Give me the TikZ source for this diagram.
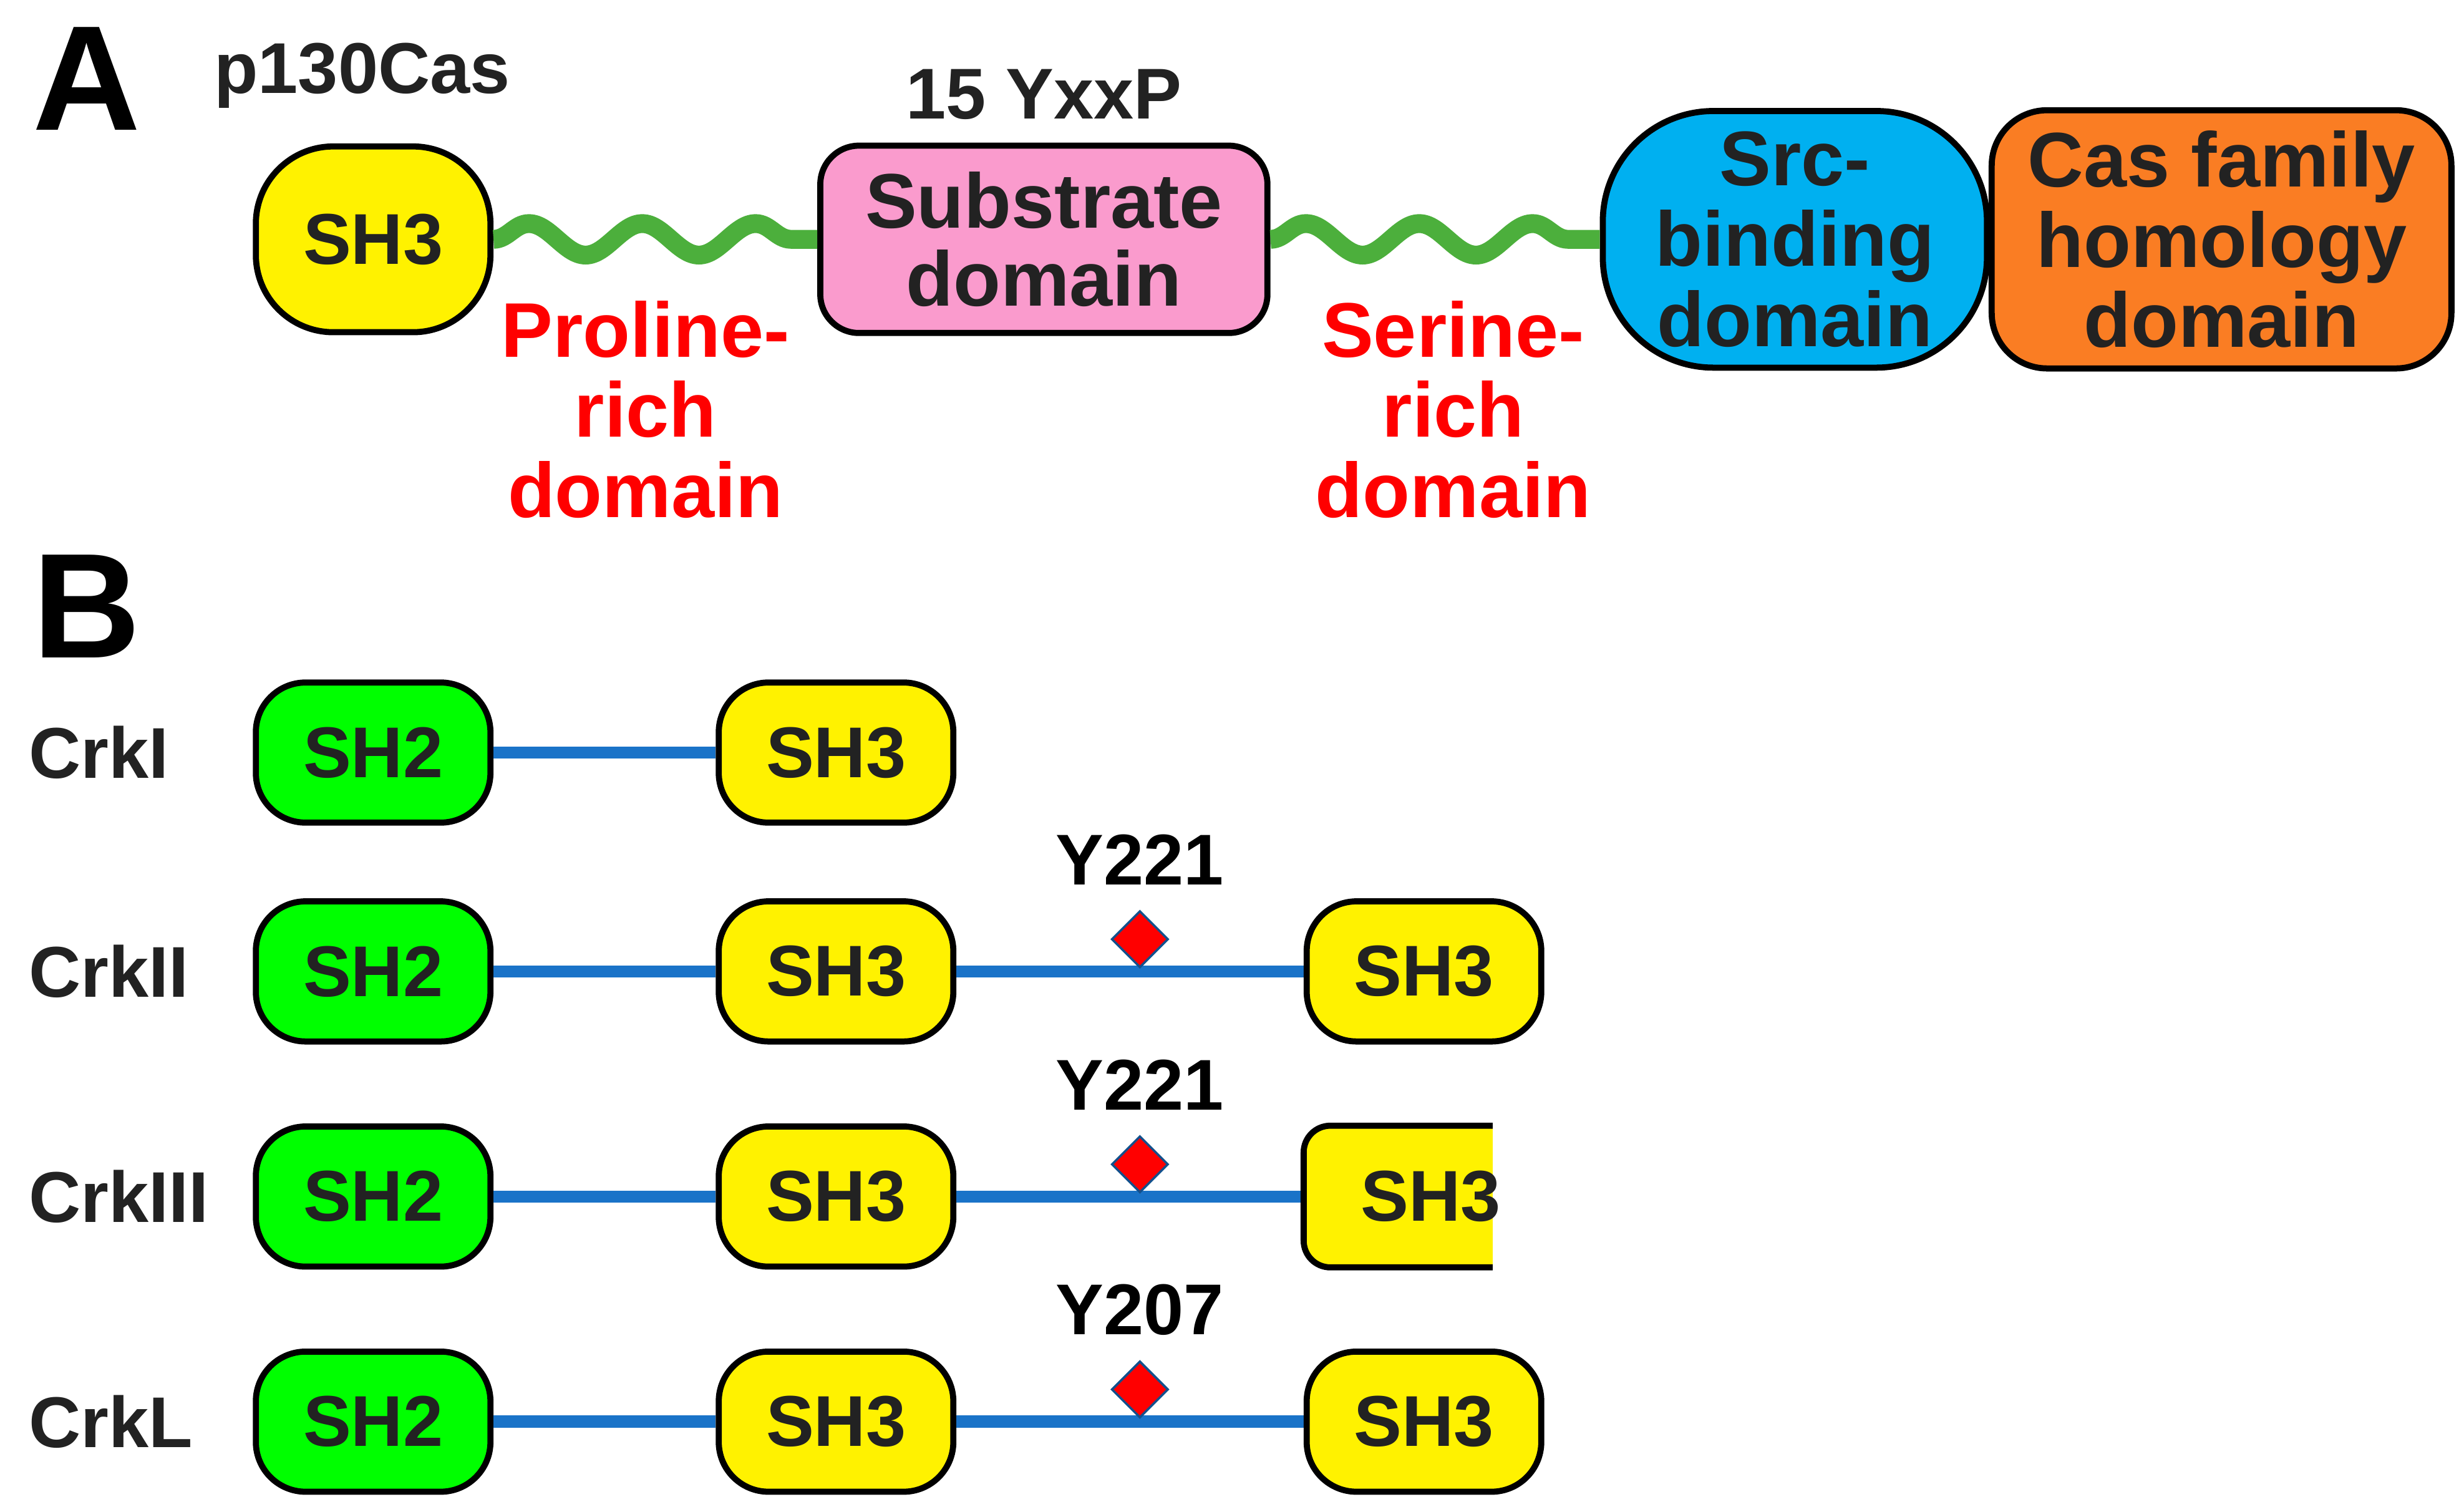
\documentclass[tikz,border=0pt]{standalone}
\usepackage{fontspec}
\setmainfont{Liberation Sans}
\usetikzlibrary{decorations.pathmorphing, shapes.geometric}
\definecolor{wormgreen}{RGB}{76,175,60}
\definecolor{linkblue}{RGB}{26,115,200}
\definecolor{subpink}{RGB}{250,155,205}
\definecolor{srcblue}{RGB}{0,176,240}
\definecolor{casorange}{RGB}{250,125,35}
\definecolor{txtgray}{RGB}{34,34,34}
\tikzset{
  dom/.style={draw=black, line width=1.1pt, rounded corners=9pt, minimum width=1.49cm, minimum height=0.89cm,
    font=\bfseries\fontsize{13}{13}\selectfont, text=txtgray, align=center, inner sep=0pt},
  shtwo/.style={dom, fill=green},
  shthree/.style={dom, fill=yellow},
  redlbl/.style={text=red, font=\bfseries\fontsize{14}{14.5}\selectfont, align=center},
  rowlbl/.style={anchor=west, font=\bfseries\fontsize{13}{13}\selectfont, text=txtgray},
  tyr/.style={diamond, fill=red, draw=linkblue!70!black, line width=0.4pt, minimum size=0.36cm, inner sep=0pt},
  link/.style={linkblue, line width=2.2pt},
  worm/.style={wormgreen, line width=3.4pt, decorate, decoration={snake, segment length=0.72cm, amplitude=0.1cm}}
}
\begin{document}
\begin{tikzpicture}
\useasboundingbox (0,0) rectangle (15.65,-9.57);
% Panel A
\node[font=\bfseries\fontsize{27}{27}\selectfont] (lblA) at (0.55,-0.5) {A};
\node[font=\bfseries\fontsize{13}{13}\selectfont, text=txtgray] (cas) at (2.3,-0.48) {p130Cas};
\node[dom, fill=yellow, minimum height=1.18cm, rounded corners=14pt] (sh3a) at (2.37,-1.52) {SH3};
\node[dom, fill=subpink, minimum width=2.84cm, minimum height=1.19cm, rounded corners=7pt, font=\bfseries\fontsize{14}{14}\selectfont] (sub) at (6.63,-1.52) {Substrate\\domain};
\node[dom, fill=srcblue, minimum width=2.44cm, minimum height=1.63cm, rounded corners=20pt, font=\bfseries\fontsize{14}{14.5}\selectfont] (src) at (11.4,-1.52) {Src-\\binding\\domain};
\node[dom, fill=casorange, minimum width=2.92cm, minimum height=1.64cm, rounded corners=10pt, font=\bfseries\fontsize{14}{14.5}\selectfont] (chd) at (14.11,-1.52) {Cas family\\homology\\domain};
\node[font=\bfseries\fontsize{13}{13}\selectfont, text=txtgray] (yxxp) at (6.63,-0.6) {15 YxxP};
\draw[worm] (sh3a.east) -- (sub.west);
\draw[worm] (sub.east) -- (src.west);
\node[redlbl] (pro) at (4.1,-2.6) {Proline-\\rich\\domain};
\node[redlbl] (ser) at (9.23,-2.6) {Serine-\\rich\\domain};
% Panel B
\node[font=\bfseries\fontsize{27}{27}\selectfont] (lblB) at (0.55,-3.85) {B};
\foreach \y/\nm/\lbl in {4.78/one/CrkI, 6.17/two/CrkII, 7.6/three/CrkIII, 9.03/el/CrkL}{
  \node[rowlbl] (lbl\nm) at (0.06,-\y) {\lbl};
  \node[shtwo] (sha\nm) at (2.37,-\y) {SH2};
  \node[shthree] (shb\nm) at (5.31,-\y) {SH3};
  \draw[link] (sha\nm.east) -- (shb\nm.west);
}
\foreach \y/\nm/\site in {6.17/two/Y221, 7.6/three/Y221, 9.03/el/Y207}{
  \coordinate (end\nm) at (8.28,-\y);
  \coordinate (ph\nm) at (7.24,-\y);
  \draw[link] (shb\nm.east) -- (end\nm);
  \node[tyr, anchor=south] (tyr\nm) at ([yshift=0.5pt]ph\nm) {};
  \node[font=\bfseries\fontsize{13}{13}\selectfont, anchor=south] (site\nm) at ([yshift=1pt]tyr\nm.north) {\site};
}
\node[shthree, anchor=west] (shctwo) at (endtwo) {SH3};
\node[shthree, anchor=west] (shcel) at (endel) {SH3};
% truncated CrkIII C-terminal SH3
\fill[yellow] (9.48,-7.15) -- (8.45,-7.15) to[out=180,in=90] (8.28,-7.32) -- (8.28,-7.88) to[out=-90,in=180] (8.45,-8.05) -- (9.48,-8.05) -- cycle;
\draw[line width=1.1pt] (9.48,-7.15) -- (8.45,-7.15) to[out=180,in=90] (8.28,-7.32) -- (8.28,-7.88) to[out=-90,in=180] (8.45,-8.05) -- (9.48,-8.05);
\node[font=\bfseries\fontsize{13}{13}\selectfont, text=txtgray, anchor=west] (shcthree) at (8.52,-7.6) {SH3};
\end{tikzpicture}
\end{document}
